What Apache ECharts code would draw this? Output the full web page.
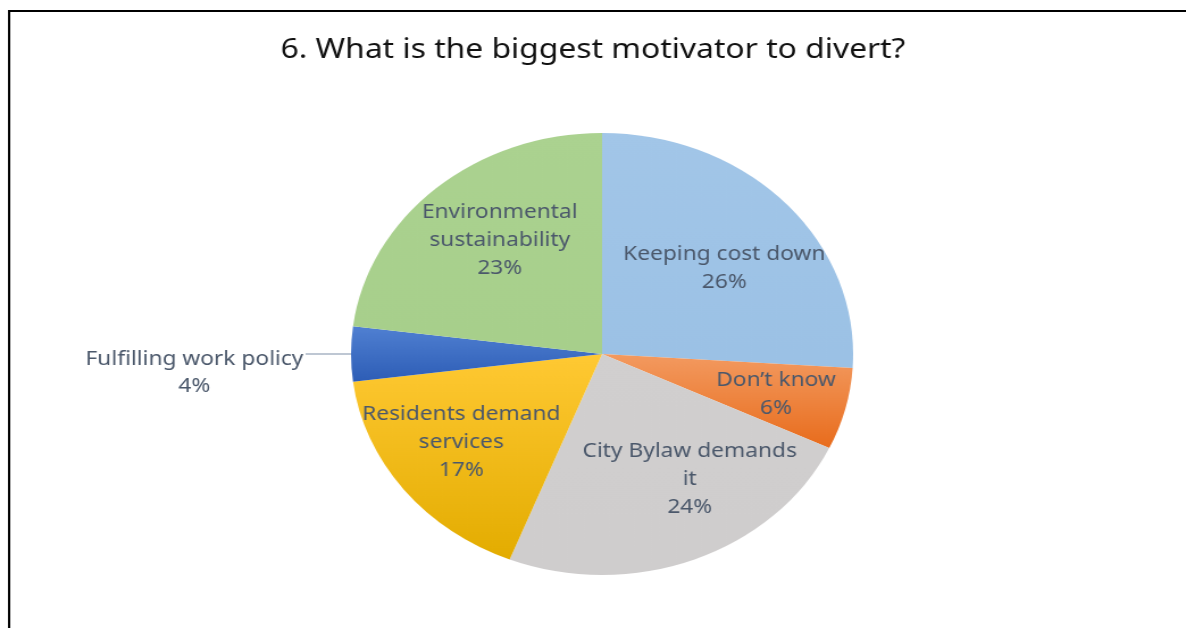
<!DOCTYPE html>
<html>
<head>
<meta charset="utf-8">
<script src="https://cdn.jsdelivr.net/npm/echarts@6/dist/echarts.min.js"></script>
<style>
  html, body { margin: 0; padding: 0; background: #fff; overflow: hidden; }
  #wrap { width: 1186px; height: 628px; overflow: hidden; }
  /* the chart is drawn on a narrower canvas and widened, giving the oval pie */
  #chart { width: 1044px; height: 628px; transform: scaleX(1.136); transform-origin: 0 0; }
</style>
</head>
<body>
<div id="wrap"><div id="chart"></div></div>
<script>
// Survey answers, clockwise from twelve o'clock
const categories = [
  'Keeping cost down',
  'Don\u2019t know',
  'City Bylaw demands\nit',
  'Residents demand\nservices',
  'Fulfilling work policy',
  'Environmental\nsustainability'
];
const percentages = [26, 6, 24, 17, 4, 23];

// Top / bottom shade of each slice
const sliceShades = [
  ['#a2c6e8', '#9bc1e5'],
  ['#f39a60', '#e86c1c'],
  ['#d1cfcf', '#cfcdcd'],
  ['#ffc933', '#e3ac00'],
  ['#5080d2', '#2d5db6'],
  ['#abd290', '#a7cf8b']
];

// Fine placement of each inside label: how far out along its slice, then a small nudge
const labelPush = [1.24, 1.42, 1.32, 1.36, 1, 1.32];
const labelNudge = [[5, 11], [-3, 0], [22, -14], [-2, -6], [0, 0], [9, -1]];

const TITLE = '6. What is the biggest motivator to divert?';
const FONT = '"Noto Sans", "Open Sans", sans-serif';
const LABEL_COLOR = '#4b586b';
const CX = 530, CY = 354, R = 221;
const OUTSIDE = categories.indexOf('Fulfilling work policy');

const chart = echarts.init(document.getElementById('chart'), null, { renderer: 'canvas' });

const data = categories.map((name, i) => {
  const item = {
    name: name,
    value: percentages[i],
    itemStyle: {
      color: {
        type: 'linear', x: 0, y: 0, x2: 0, y2: 1,
        colorStops: [
          { offset: 0, color: sliceShades[i][0] },
          { offset: 1, color: sliceShades[i][1] }
        ]
      }
    }
  };
  if (i === OUTSIDE) {
    item.label = {
      position: 'outside',
      formatter: '{a|{b}}\n{a|{c}%}',
      distanceToLabelLine: 2,
      padding: [38, 0, 0, 0],
      rich: { a: { align: 'center', fontFamily: FONT, fontSize: 20, lineHeight: 27, color: LABEL_COLOR } }
    };
    item.labelLine = { show: true, length: 14, length2: 26, lineStyle: { color: '#a9b4c4', width: 1.5 } };
  }
  return item;
});

chart.setOption({
  animation: false,
  backgroundColor: '#ffffff',
  title: {
    text: TITLE,
    left: 'center',
    top: 31,
    textStyle: { fontFamily: FONT, fontSize: 28, fontWeight: 'normal', color: '#111111' }
  },
  graphic: [{
    type: 'rect',
    shape: { x: 8, y: 11, width: 3000, height: 3000 },
    style: { fill: 'none', stroke: '#000000', lineWidth: 2 },
    silent: true
  }],
  series: [{
    type: 'pie',
    center: [CX, CY],
    radius: R,
    startAngle: 90,
    clockwise: true,
    avoidLabelOverlap: false,
    data: data,
    label: {
      show: true,
      position: 'inside',
      formatter: '{b}\n{c}%',
      fontFamily: FONT,
      fontSize: 20,
      lineHeight: 28,
      color: LABEL_COLOR,
      align: 'center'
    },
    labelLine: { show: false },
    labelLayout: function (p) {
      const i = p.dataIndex;
      if (i === OUTSIDE) return {};
      const r = p.labelRect;
      const lx = r.x + r.width / 2, ly = r.y + r.height / 2;
      const k = labelPush[i] - 1;
      return {
        dx: (lx - CX) * k + labelNudge[i][0],
        dy: (ly - CY) * k + labelNudge[i][1]
      };
    },
    emphasis: { disabled: true }
  }]
});
</script>
</body>
</html>
